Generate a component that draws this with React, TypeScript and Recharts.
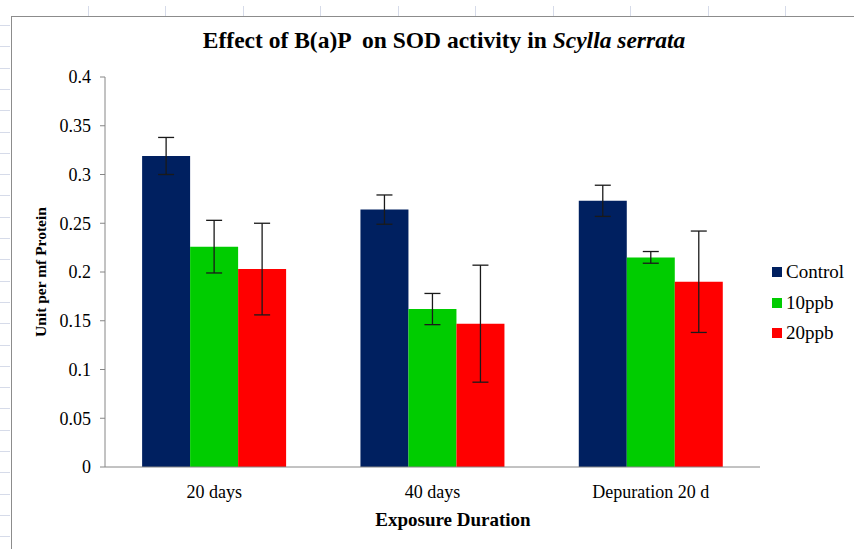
import { BarChart, Bar, XAxis, YAxis, ErrorBar } from "recharts";

const categories = ["20 days", "40 days", "Depuration 20 d"];
const control = [0.319, 0.264, 0.273];
const controlErr = [0.019, 0.015, 0.016];
const ppb10 = [0.226, 0.162, 0.215];
const ppb10Err = [0.027, 0.016, 0.006];
const ppb20 = [0.203, 0.147, 0.19];
const ppb20Err = [0.047, 0.06, 0.052];
const yTicks = [0, 0.05, 0.1, 0.15, 0.2, 0.25, 0.3, 0.35, 0.4];

const series = [
  { key: "control", name: "Control", color: "#002060", err: "controlErr" },
  { key: "ppb10", name: "10ppb", color: "#00CC00", err: "ppb10Err" },
  { key: "ppb20", name: "20ppb", color: "#FF0000", err: "ppb20Err" },
];

const data = categories.map((c, i) => ({
  name: c,
  control: control[i],
  controlErr: controlErr[i],
  ppb10: ppb10[i],
  ppb10Err: ppb10Err[i],
  ppb20: ppb20[i],
  ppb20Err: ppb20Err[i],
}));

const FONT = '"Times New Roman", "Liberation Serif", serif';

export default function App() {
  // spreadsheet cell lines around the chart object
  const rowLines = Array.from({ length: 26 }, (_, i) => 25 + i * 21.3);
  const colLines = [88, 165, 243, 320, 398, 475, 553, 630, 708, 785];

  return (
    <div style={{ position: "absolute", left: 0, top: 0, width: 854, height: 549, background: "#fff", overflow: "hidden", fontFamily: FONT }}>
      {rowLines.map((y) => (
        <div key={"r" + y} style={{ position: "absolute", left: 0, top: y, width: 10, height: 1, background: "#d6dbe9" }} />
      ))}
      {colLines.map((x) => (
        <div key={"c" + x} style={{ position: "absolute", left: x, top: 6, width: 1, height: 10, background: "#d6dbe9" }} />
      ))}
      <div style={{ position: "absolute", left: 11, top: 16, width: 843, height: 533, borderLeft: "1px solid #8c8c8c", borderTop: "1px solid #8c8c8c" }} />

      <div style={{ position: "absolute", left: 12, top: 17 }}>
        <BarChart
          width={842}
          height={532}
          data={data}
          margin={{ top: 60, right: 94, bottom: 52, left: 33 }}
          barCategoryGap="17%"
          barGap={0}
          style={{ fontFamily: FONT }}
        >
          <XAxis
            dataKey="name"
            height={30}
            tickLine={false}
            axisLine={{ stroke: "#868686" }}
            tick={{ fill: "#000", fontSize: 18, fontFamily: FONT }}
            tickMargin={12}
          />
          <YAxis
            width={60}
            domain={[0, 0.4]}
            ticks={yTicks}
            interval={0}
            tickFormatter={(v: number) => String(Number(v.toFixed(2)))}
            axisLine={{ stroke: "#868686" }}
            tickLine={{ stroke: "#868686" }}
            tickSize={5}
            tickMargin={9}
            tick={{ fill: "#000", fontSize: 18, fontFamily: FONT }}
          />
          {series.map((s) => (
            <Bar key={s.key} dataKey={s.key} name={s.name} fill={s.color} isAnimationActive={false}>
              <ErrorBar dataKey={s.err} width={8} stroke="#1a1a1a" strokeWidth={1.3} />
            </Bar>
          ))}
        </BarChart>
      </div>

      <div style={{ position: "absolute", left: 772, top: 257, fontSize: 19, color: "#000" }}>
        {series.map((s) => (
          <div key={s.key} style={{ display: "flex", alignItems: "center", height: 30.5 }}>
            <span style={{ width: 10, height: 10, background: s.color, marginRight: 4 }} />
            <span>{s.name}</span>
          </div>
        ))}
      </div>

      <div style={{ position: "absolute", left: 0, width: 888, top: 27, textAlign: "center", fontWeight: "bold", fontSize: 23.5, color: "#000", whiteSpace: "pre" }}>
        {"Effect of B(a)P  on SOD activity in "}
        <i>Scylla serrata</i>
      </div>
      <div style={{ position: "absolute", left: 0, width: 906, top: 509, textAlign: "center", fontWeight: "bold", fontSize: 19, color: "#000" }}>
        Exposure Duration
      </div>
      <div
        style={{
          position: "absolute",
          left: 41,
          top: 272,
          transform: "translate(-50%, -50%) rotate(-90deg)",
          whiteSpace: "nowrap",
          fontWeight: "bold",
          fontSize: 15.5,
          color: "#000",
        }}
      >
        Unit per mf Protein
      </div>
    </div>
  );
}
